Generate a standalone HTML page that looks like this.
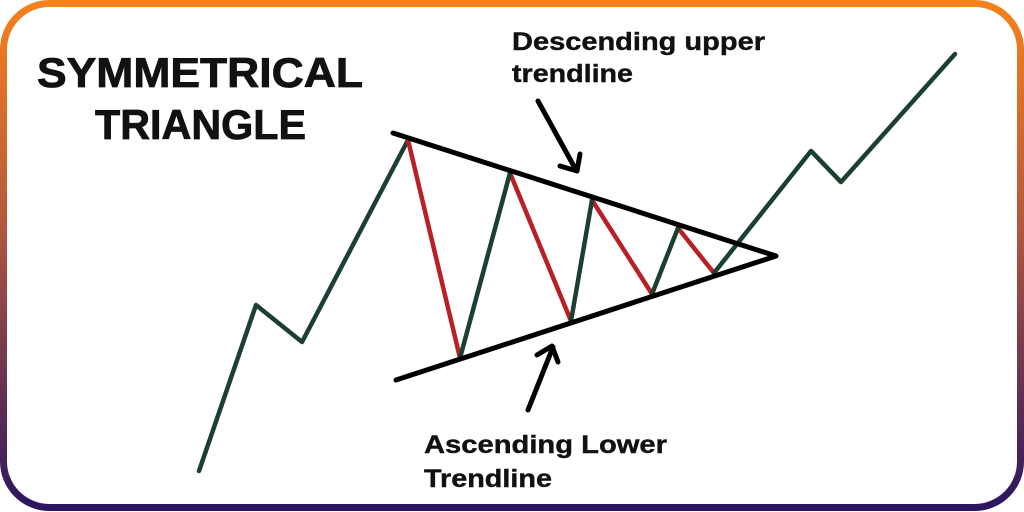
<!DOCTYPE html>
<html><head><meta charset="utf-8"><style>
html,body{margin:0;padding:0;background:#fff;width:1024px;height:512px;overflow:hidden}
svg{display:block}
text{font-family:"Liberation Sans",Arial,sans-serif;font-weight:bold;fill:#111}
</style></head><body>
<svg width="1024" height="512" viewBox="0 0 1024 512" xmlns="http://www.w3.org/2000/svg">
<defs><linearGradient id="g" x1="0" y1="0" x2="0" y2="1">
<stop offset="0" stop-color="#f7811c"/><stop offset="0.45" stop-color="#b0573f"/><stop offset="1" stop-color="#2e1560"/></linearGradient></defs>
<rect x="3.5" y="3.5" width="1017" height="504" rx="46" fill="#fff" stroke="url(#g)" stroke-width="7"/>
<text x="37" y="87" font-size="42" textLength="326" lengthAdjust="spacingAndGlyphs" stroke="#111" stroke-width="0.8">SYMMETRICAL</text>
<text x="95" y="139" font-size="42" textLength="211" lengthAdjust="spacingAndGlyphs" stroke="#111" stroke-width="0.8">TRIANGLE</text>
<text x="512" y="50" font-size="25" textLength="253" lengthAdjust="spacingAndGlyphs" stroke="#111" stroke-width="0.4">Descending upper</text>
<text x="512" y="82" font-size="25" textLength="121" lengthAdjust="spacingAndGlyphs" stroke="#111" stroke-width="0.4">trendline</text>
<text x="424" y="453" font-size="25" textLength="243" lengthAdjust="spacingAndGlyphs" stroke="#111" stroke-width="0.4">Ascending Lower</text>
<text x="424" y="487" font-size="25" textLength="128" lengthAdjust="spacingAndGlyphs" stroke="#111" stroke-width="0.4">Trendline</text>
<g fill="none" stroke-width="4.5" stroke-linecap="round" stroke-linejoin="round">
<polyline stroke="#1c4030" points="199,471 256,305 302,342 408,140"/>
<g stroke="#b82025">
<line x1="408" y1="140" x2="460" y2="358"/>
<line x1="510" y1="173" x2="571" y2="321"/>
<line x1="592" y1="200" x2="652" y2="294"/>
<line x1="678" y1="228" x2="714" y2="273"/>
</g>
<g stroke="#1c4030">
<line x1="460" y1="358" x2="510" y2="173"/>
<line x1="571" y1="321" x2="592" y2="200"/>
<line x1="652" y1="294" x2="678" y2="228"/>
<polyline points="714,273 811,151 841,182 955,54"/>
</g>
<g stroke="#000" stroke-width="5">
<polyline points="393,133 776,256 396,380"/>
<line x1="538" y1="101" x2="576" y2="170"/>
<polyline points="560,166 577,171 580,154"/>
<line x1="528" y1="410" x2="553" y2="347"/>
<polyline points="537,355 552,346 558,362"/>
</g>
</g>
</svg>
</body></html>
